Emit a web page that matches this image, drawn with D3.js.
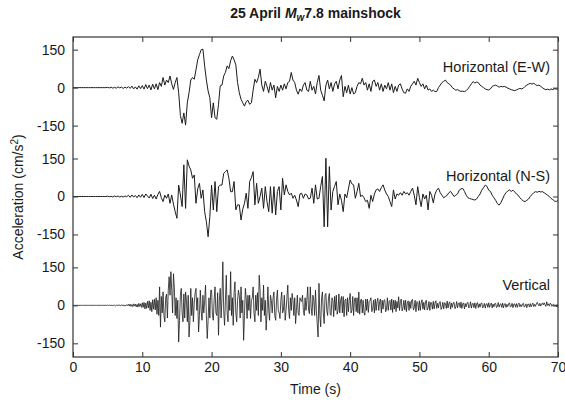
<!DOCTYPE html>
<html>
<head>
<meta charset="utf-8">
<script src="https://cdn.jsdelivr.net/npm/d3@7"></script>
<style>
  body { margin: 0; background: #fff; }
  text { font-family: "Liberation Sans", Arial, Helvetica, sans-serif; fill: #1a1a1a; }
</style>
</head>
<body>
<script>
// sample spacing of the traces (s): horizontals every 0.25 s, vertical every 0.125 s
const horizStep = 0.25;
const vertStep = 0.125;
const timeTicks = [0, 10, 20, 30, 40, 50, 60, 70];
const accelTicks = [-150, 0, 150];
const traceNames = ["Horizontal (E-W)", "Horizontal (N-S)", "Vertical"];

// accelerations (cm/s^2) from 0 to 70 s
const ewValues = [
  0,0,0,0,0,0,0,0,0,0,0,0,0,0,0,0,0,0,0,0,
  1,-1,2,-2,1,-2,3,-1,2,-3,2,-2,
  4,-3,6,-5,3,-6,7,-4,
  8,-6,12,-4,10,-9,14,-5,
  15,-8,20,5, 40,10,30,20, 46,15,-7,20, 40,-20,-110,-141,
  -100,-148,-60,-20, 30,40,33,70, 110,130,150,152, 86,30,-13,-40,
  -119,-60,-119,-125, -66,7,10,46, 60,86,75,106, 125,110,90,20,
  -20,-46,-60,-73, -55,-50,-66,-60, -10,33,20,40, 73,10,-15,25,
  5,-20,20,-10, 10,-40,5,-15, 10,-10,15,-5, 20,25,60,30,
  20,-10,-26,-5, -15,10,20,-10, -15,25,-10,5, -25,20,48,-10,
  -30,-52,10,30, -5,20,-15,15, 25,-5,30,48, -36,5,-20,10,
  -25,0,-25,-20, 5,20,15,37, 10,20,-10,15, -15,25,30,5,
  20,-10,15,-15, 10,-5,20,-10, 15,-20,5,-15, 10,15,-5,-20,
  -22,-5,-15,5, 15,25,10,37, 20,5,15,-5, 10,-10,-5,-15,
  -10,-16,-15,0, 10,20,25,30, 20,15,10,0, -5,-10,-8,-12,
  -15,-14,-16,-12, -5,5,15,24, 18,22,20,10, 5,0,-5,-8,
  -9,-5,5,8, 10,6,2,5, 3,5,2,-2, -5,-8,-10,-12,
  -9,-6,-3,-5, -2,5,10,14, 17,14,17,12, 8,10,5,0,
  -5,-8,-6,-9, -5,-8,-4,-6,-5
];

const nsValues = [
  0,0,0,0,0,0,0,0,0,0,0,0,0,0,0,0,0,0,0,0,
  1,-1,1,-2,2,-1,2,-2,1,-2,2,-1,
  5,-3,6,-2,4,-5,6,-3,
  8,-4,10,2,-6,9,-8,5,
  -10,8,20,-5, -20,5,-7,10, -27,6,-30,-60, -86,45,6,-40,
  125,-47,145,120, 105,72,85,-27, 30,52,-7,26, -60,-100,-159,-80,
  45,-53,59,-60, 39,45,45,91, 98,105,72,19, 19,59,-53,-33,
  -33,-93,-50,-27, 13,-47,59,75, 98,-33,52,-27, 0,33,-47,39,
  -20,-60,39,-66, 39,-73,20,39, -53,72,6,46, 20,6,13,-7,
  5,-14,-40,10, 13,-7,10,6, -10,-7,33,-27, 46,-10,-7,40,
  79,-120,151,-120, 118,-53,20,40, 59,-33,10,-15, -60,10,-5,30,
  65,50,46,-7, 20,52,0,5, -5,-20,-15,-47, 5,-20,10,26,
  30,20,35,46, 25,10,0,-20, -40,26,-10,10, 5,15,5,20,
  10,15,5,20, 33,5,-33,39, -5,-40,10,-10, 5,-53,20,5,
  -25,10,25,33, 15,5,-5,0, 5,15,20,10, 0,5,10,25,
  30,32,20,5, -5,-8,-10,-12, -14,-10,0,10, 25,35,45,40,
  25,20,5,-5, -15,-28,-34,-25, -10,5,15,22, 26,20,25,18,
  10,5,-5,-12, -18,-20,-15,-10, 0,8,15,19, 17,20,18,19,
  15,10,5,0, -8,-12,-18,-20,-15
];

const vtValues = [
  0,0,0,0,0,0,0,0,0,0,0,0,0,0,0,0,0,0,0,0,
  0,0,0,0,0,0,0,0,0,0,0,0,0,0,0,0,0,0,0,0,
  1,-1,1,0,-1,1,-1,0,   1,-2,1,-1,2,-1,1,-2,   2,-1,2,-3,1,-2,3,-1,
  4,-3,5,-4,3,-5,6,-3,   5,-6,4,-7,8,-4,6,-8,
  10,-8,12,-14,9,-12,16,-10,   18,-20,12,-25,22,-15,24,-18,
  30,-35,20,-40,73,-86,35,-30,   53,-40,-65,30,45,-50,60,113,
  40,133,60,-30,125,70,-40,30,   -52,20,-145,-60,40,67,-30,-65,
  45,-50,53,20,-65,40,-125,-60,   67,-40,30,-65,10,50,67,-20,
  30,-105,-40,60,-20,-59,40,-30,   20,80,-40,-131,-60,30,-50,60,
  60,-40,-59,25,73,-30,-40,50,   -118,20,67,-50,30,172,-20,-79,
  20,119,-30,-65,40,-20,133,-40,   30,-79,50,93,-30,-65,20,60,
  40,-50,73,-30,20,-138,-40,67,   30,-52,40,-20,40,-52,20,30,
  73,-30,-65,40,-20,50,-40,119,   60,-65,30,-20,80,-40,20,-98,
  -30,73,-20,-59,40,20,-30,30,   53,-40,-59,20,60,-20,-30,-52,
  20,53,-30,-20,40,-59,-20,30,   80,-20,-52,30,-20,47,20,-40,
  30,-72,-20,40,-30,-40,30,20,   15,40,-20,-40,30,-20,20,73,
  -20,-33,73,-10,-40,40,20,-40,   60,-20,-72,-125,87,-40,-85,30,
  53,-30,-72,40,47,-20,-40,30,   47,-35,-40,30,20,-45,35,-20,
  40,-35,-20,45,-30,20,35,-30,   35,-45,20,25,-40,30,-25,20,
  47,-30,-20,35,-40,25,30,-25,   30,-30,53,-35,20,25,-30,20,
  -30,-39,25,-20,25,-28,15,20,   30,-25,-15,20,-30,25,-20,15,
  28,-20,15,25,-30,20,-15,20,   22,-25,-15,30,-20,15,20,-18,
  25,-28,20,-15,20,-25,15,-10,   34,-20,15,25,-22,-10,20,-18,
  20,-25,10,18,-20,15,-12,20,   24,-18,-10,20,-25,15,12,-20,
  18,-20,10,22,-15,12,-18,15,   20,-18,-10,15,-20,12,10,-15,
  16,-14,10,18,-12,8,-10,12,   15,-16,-8,12,-14,10,8,-12,
  17,-10,8,14,-15,9,-8,10,   12,-13,-6,15,-10,8,10,-9,
  13,-12,6,10,-14,7,-6,9,   12,-10,-5,14,-11,6,8,-9,
  10,-12,5,11,-9,6,-7,8,   9,-10,-4,8,-11,5,7,-8,
  10,-8,4,9,-10,5,-6,7,   8,-9,-4,11,-7,4,6,-8,
  9,-10,5,7,-8,4,-5,6,   10,-6,-4,8,-9,5,6,-7,
  7,-8,4,9,-6,3,-5,6,   8,-7,-3,6,-9,4,5,-6,
  7,-6,3,9,-5,4,-4,6,   12,4,-2,8,-3,6,9,2,
  10,2,-4,14,0,6,-3,8,   6,-4,3,5,-3,2,-6,4,
  -8
];

const traces = [ewValues, nsValues, vtValues];
const traceSteps = [horizStep, horizStep, vertStep];

const WIDTH = 565, HEIGHT = 403;
const LEFT = 73, RIGHT = 558, TOP = 37, BOTTOM = 357;
// vertical shift of each trace inside the shared frame (same units as the data)
const panelOffsets = [0, -430, -860];

const svg = d3.select("body")
              .append("svg")
              .attr("width", WIDTH)
              .attr("height", HEIGHT);

const x = d3.scaleLinear().domain([0, 70]).range([LEFT, RIGHT]);
const y = d3.scaleLinear().domain([-1064, 200]).range([BOTTOM, TOP]);

// traces
traces.forEach((vals, k) => {
    const off = panelOffsets[k], dt = traceSteps[k];
    const line = d3.line()
                   .x((d, i) => x(i * dt))
                   .y(d => y(d + off));
    svg.append("path")
       .datum(vals)
       .attr("d", line)
       .attr("fill", "none")
       .attr("stroke", "#1c1c1c")
       .attr("stroke-width", k == 2 ? 0.8 : 1.0)
       .attr("stroke-linejoin", "round");

    // per panel y ticks, left with labels, right without
    const py = d3.scaleLinear().domain([-150, 150]).range([y(off - 150), y(off + 150)]);
    const gl = svg.append("g")
                  .attr("transform", `translate(${LEFT},0)`)
                  .call(d3.axisLeft(py).tickValues(accelTicks).tickSizeInner(-5).tickSizeOuter(0)
                          .tickPadding(8).tickFormat(d => String(d)));
    const gr = svg.append("g")
                  .attr("transform", `translate(${RIGHT},0)`)
                  .call(d3.axisRight(py).tickValues(accelTicks).tickSizeInner(-5).tickSizeOuter(0)
                          .tickFormat(""));
    [gl, gr].forEach(g => {
        g.select(".domain").remove();
        g.selectAll("line").attr("stroke", "#333");
        g.selectAll("text").style("font-size", "14px").attr("fill", "#1a1a1a");
    });

    svg.append("text")
       .attr("x", 550)
       .attr("y", y(off + 80) + 5)
       .attr("text-anchor", "end")
       .style("font-size", "14.5px")
       .text(traceNames[k]);
});

// x axis bottom with labels, top ticks only
const gx = svg.append("g")
              .attr("transform", `translate(0,${BOTTOM})`)
              .call(d3.axisBottom(x).tickValues(timeTicks).tickSizeInner(-5).tickSizeOuter(0).tickPadding(5));
const gxt = svg.append("g")
               .attr("transform", `translate(0,${TOP})`)
               .call(d3.axisTop(x).tickValues(timeTicks).tickSizeInner(-5).tickSizeOuter(0).tickFormat(""));
[gx, gxt].forEach(g => {
    g.select(".domain").remove();
    g.selectAll("line").attr("stroke", "#333");
    g.selectAll("text").style("font-size", "14px").attr("fill", "#1a1a1a");
});

// frame
svg.append("rect")
   .attr("x", LEFT).attr("y", TOP)
   .attr("width", RIGHT - LEFT).attr("height", BOTTOM - TOP)
   .attr("fill", "none")
   .attr("stroke", "#333")
   .attr("stroke-width", 1.2);

// title
const title = svg.append("text")
                 .attr("x", (LEFT + RIGHT) / 2)
                 .attr("y", 18)
                 .attr("text-anchor", "middle")
                 .style("font-size", "14px")
                 .style("font-weight", "bold");
title.append("tspan").text("25 April ");
title.append("tspan").style("font-style", "italic").text("M");
title.append("tspan").style("font-style", "italic").style("font-size", "10px").attr("dy", 3).text("w");
title.append("tspan").attr("dy", -3).text("7.8 mainshock");

// axis titles
svg.append("text")
   .attr("x", (LEFT + RIGHT) / 2)
   .attr("y", 394)
   .attr("text-anchor", "middle")
   .style("font-size", "14px")
   .text("Time (s)");

const yl = svg.append("text")
              .attr("transform", "translate(23,197) rotate(-90)")
              .attr("text-anchor", "middle")
              .style("font-size", "14px");
yl.append("tspan").text("Acceleration (cm/s");
yl.append("tspan").style("font-size", "10px").attr("dy", -5).text("2");
yl.append("tspan").attr("dy", 5).text(")");
</script>
</body>
</html>
